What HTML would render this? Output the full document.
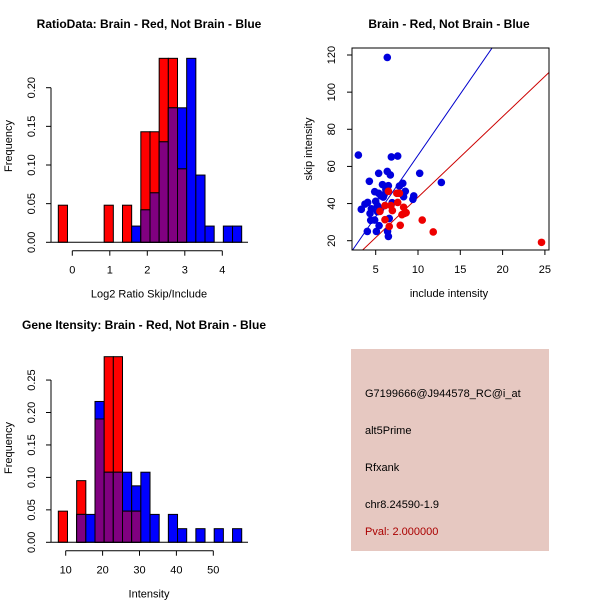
<!DOCTYPE html>
<html><head><meta charset="utf-8"><style>
html,body{margin:0;padding:0;background:#fff;}
svg{display:block;font-family:"Liberation Sans",Arial,sans-serif;}
</style></head><body>
<svg id="root" width="600" height="600" viewBox="0 0 600 600" xmlns="http://www.w3.org/2000/svg">
<rect width="600" height="600" fill="#fff"/>
<g id="p1"></g>
<g id="p2"></g>
<g id="p3"></g>
<g id="p4">
  <rect x="351" y="349" width="198" height="202" fill="#e6c8c1"/>
  <text x="365" y="397" font-size="11" fill="#000">G7199666@J944578_RC@i_at</text>
  <text x="365" y="434" font-size="11" fill="#000">alt5Prime</text>
  <text x="365" y="471" font-size="11" fill="#000">Rfxank</text>
  <text x="365" y="508" font-size="11" fill="#000">chr8.24590-1.9</text>
  <text x="365" y="535" font-size="11" fill="#aa0000">Pval: 2.000000</text>
</g>
</svg>
<script>
// ---- Plot 1 data: RatioData histogram ----
const ratioBinStart = -0.373;
const ratioBinWidth = 0.2445;
const ratioRed  = [0.048,0,0,0,0,0.048,0,0.048,0,0.143,0.143,0.238,0.238,0.095,0,0,0,0,0,0];
const ratioBlue = [0,0,0,0,0,0,0,0,0.021,0.042,0.064,0.130,0.174,0.174,0.238,0.087,0.021,0,0.021,0.021];
const ratioXTicks = [0,1,2,3,4];
const ratioYTicks = ["0.00","0.05","0.10","0.15","0.20"];

// ---- Plot 2 data: scatter ----
const blueInclude = [2.95,6.37,3.30,3.73,4.05,4.25,4.33,4.49,4.41,4.88,4.88,4.01,5.08,5.0,5.2,5.35,5.35,5.2,5.4,5.47,5.63,5.8,5.6,5.9,6.0,6.2,6.37,6.5,6.73,6.85,6.6,6.4,6.5,6.94,7.6,7.8,8.2,8.3,8.5,9.5,9.4,10.2,12.76];
const blueSkip    = [66.1,118.7,36.9,39.7,40.6,52.0,34.7,37.2,31.0,31.1,46.4,25.0,25.0,41.2,38.9,56.3,45.5,35.6,28.1,35.8,44.1,50.2,37.4,43.5,44.8,47.6,57.3,49.6,55.4,65.1,32.0,25.0,22.3,40.5,65.6,49.4,50.9,43.7,46.6,44.1,42.3,56.3,51.4];
const redInclude  = [6.5,6.1,5.5,6.1,6.6,6.8,6.97,7.5,7.8,7.6,7.9,8.1,8.3,8.4,8.6,10.5,11.8,24.6];
const redSkip     = [46.6,38.9,35.8,31.3,27.7,38.9,36.2,45.5,45.5,40.6,28.3,34.0,38.0,34.7,35.1,31.1,24.7,19.1];
const fitSlopes = [6.6, 4.34];
const scatterXTicks = [5,10,15,20,25];
const scatterYTicks = [20,40,60,80,100,120];

// ---- Plot 3 data: gene intensity histogram ----
const geneBinStart = 8.0;
const geneBinWidth = 2.485;
const geneRed  = [0.048,0,0.095,0,0.190,0.286,0.286,0.048,0.048,0,0,0,0,0,0,0,0,0,0,0];
const geneBlue = [0,0,0.043,0.043,0.217,0.108,0.108,0.108,0.087,0.108,0.043,0,0.043,0.021,0,0.021,0,0.021,0,0.021];
const geneXTicks = [10,20,30,40,50];
const geneYTicks = ["0.00","0.05","0.10","0.15","0.20","0.25"];

const NS = "http://www.w3.org/2000/svg";
function mk(parent, tag, attrs, text){
  const e = document.createElementNS(NS, tag);
  for (const k in attrs) e.setAttribute(k, attrs[k]);
  if (text !== undefined) e.textContent = text;
  parent.appendChild(e);
  return e;
}

function histogram(g, cfg){
  const sx = v => cfg.x0px + (v - cfg.x0) * cfg.xs;
  const sy = v => cfg.basePx - v * cfg.ys;
  for (let i = 0; i < cfg.red.length; i++){
    const l = sx(cfg.start + i*cfg.width), r = sx(cfg.start + (i+1)*cfg.width);
    const rv = cfg.red[i], bv = cfg.blue[i], mv = Math.min(rv, bv);
    const parts = [[rv,'#ff0000','red'],[bv,'#0000ff','blue'],[mv,'#800080','overlap']];
    parts.sort((a,b)=>b[0]-a[0]);
    for (const [v,c,nm] of parts){
      if (v <= 0) continue;
      const b = mk(g,'rect',{x:l,y:sy(v),width:r-l,height:sy(0)-sy(v),fill:c,stroke:'#000','stroke-width':1});
      
      
    }
  }
  const base = mk(g,'line',{x1:cfg.axisX,x2:cfg.baseEnd,y1:sy(0),y2:sy(0),stroke:'#000'});
  
  
  const yv = cfg.yTicks.map(Number);
  const ya = mk(g,'line',{x1:cfg.axisX,x2:cfg.axisX,y1:sy(yv[0]),y2:sy(yv[yv.length-1]),stroke:'#000'});
  
  
  cfg.yTicks.forEach(t=>{
    const y = sy(Number(t));
    mk(g,'line',{x1:cfg.axisX-5,x2:cfg.axisX,y1:y,y2:y,stroke:'#000'});
    const lx = cfg.axisX-19;
    const tx = mk(g,'text',{x:lx,y:y,'font-size':11,'text-anchor':'middle',transform:`rotate(-90 ${lx} ${y})`,'dominant-baseline':'central'},t);
    
    
  });
  const xa = mk(g,'line',{x1:sx(cfg.xTicks[0]),x2:sx(cfg.xTicks[cfg.xTicks.length-1]),y1:cfg.xAxisY,y2:cfg.xAxisY,stroke:'#000'});
  
  
  cfg.xTicks.forEach(t=>{
    const x = sx(t);
    mk(g,'line',{x1:x,x2:x,y1:cfg.xAxisY,y2:cfg.xAxisY+5,stroke:'#000'});
    const tx = mk(g,'text',{x:x,y:cfg.xAxisY+23,'font-size':11,'text-anchor':'middle'},String(t));
    
    
  });
  const xl = mk(g,'text',{x:cfg.xLabelX,y:cfg.xAxisY+47,'font-size':11,'text-anchor':'middle'},cfg.xLabel);
  
  
  const ylY = cfg.ylabY;
  const yl = mk(g,'text',{x:12,y:ylY,'font-size':11,'text-anchor':'middle',transform:`rotate(-90 12 ${ylY})`},'Frequency');
  
  
  const ti = mk(g,'text',{x:cfg.titleX,y:cfg.titleY,'font-size':12,'font-weight':'bold','text-anchor':'middle'},cfg.title);
  
  
}

histogram(document.getElementById('p1'),{
  red:ratioRed, blue:ratioBlue, start:ratioBinStart, width:ratioBinWidth,
  x0:0, x0px:72.3, xs:37.5, basePx:242.3, ys:773,
  axisX:51, baseEnd:248, xAxisY:250.7, xTicks:ratioXTicks, yTicks:ratioYTicks,
  xLabel:'Log2 Ratio Skip/Include', xLabelX:149, ylabY:146,
  title:'RatioData: Brain - Red, Not Brain - Blue', titleX:149, titleY:28
});
histogram(document.getElementById('p3'),{
  red:geneRed, blue:geneBlue, start:geneBinStart, width:geneBinWidth,
  x0:10, x0px:65.7, xs:3.69, basePx:542.3, ys:649,
  axisX:51, baseEnd:248, xAxisY:550.7, xTicks:geneXTicks, yTicks:geneYTicks,
  xLabel:'Intensity', xLabelX:149, ylabY:448,
  title:'Gene Itensity: Brain - Red, Not Brain - Blue', titleX:144, titleY:329
});

(function(){
  const g = document.getElementById('p2');
  const L=352, R=549, T=48, B=250;
  const sx = v => 333.4 + v*8.46;
  const sy = v => 240.7 - (v-20)*1.857;
  const clip = mk(g,'clipPath',{id:'sc'});
  mk(clip,'rect',{x:L,y:T,width:R-L,height:B-T});
  const lines = mk(g,'g',{'clip-path':'url(#sc)'});
  const cols = ['#0000cc','#cc0000'];
  fitSlopes.forEach((s,i)=>{
    const ln = mk(lines,'line',{x1:sx(0),y1:sy(0),x2:sx(30),y2:sy(30*s),stroke:cols[i],'stroke-width':1});
    
    
  });
  blueInclude.forEach((x,i)=>{
    const c = mk(g,'circle',{cx:sx(x),cy:sy(blueSkip[i]),r:3.8,fill:'#0000dd'});
    
    
  });
  redInclude.forEach((x,i)=>{
    const c = mk(g,'circle',{cx:sx(x),cy:sy(redSkip[i]),r:3.8,fill:'#ee0000'});
    
    
  });
  const box = mk(g,'rect',{x:L,y:T,width:R-L,height:B-T,fill:'none',stroke:'#000'});
  
  
  scatterXTicks.forEach(t=>{
    const x=sx(t);
    mk(g,'line',{x1:x,x2:x,y1:B,y2:B+5,stroke:'#000'});
    const tx = mk(g,'text',{x:x,y:B+23,'font-size':11,'text-anchor':'middle'},String(t));
    
    
  });
  scatterYTicks.forEach(t=>{
    const y=sy(t);
    mk(g,'line',{x1:L-5,x2:L,y1:y,y2:y,stroke:'#000'});
    const lx = L-20;
    const tx = mk(g,'text',{x:lx,y:y,'font-size':11,'text-anchor':'middle','dominant-baseline':'central',transform:`rotate(-90 ${lx} ${y})`},String(t));
    
    
  });
  const xl = mk(g,'text',{x:449,y:297,'font-size':11,'text-anchor':'middle'},'include intensity');
  
  
  const yl = mk(g,'text',{x:312,y:149,'font-size':11,'text-anchor':'middle',transform:'rotate(-90 312 149)'},'skip intensity');
  
  
  const ti = mk(g,'text',{x:449,y:28,'font-size':12,'font-weight':'bold','text-anchor':'middle'},'Brain - Red, Not Brain - Blue');
  
  
})();
</script>
</body></html>
